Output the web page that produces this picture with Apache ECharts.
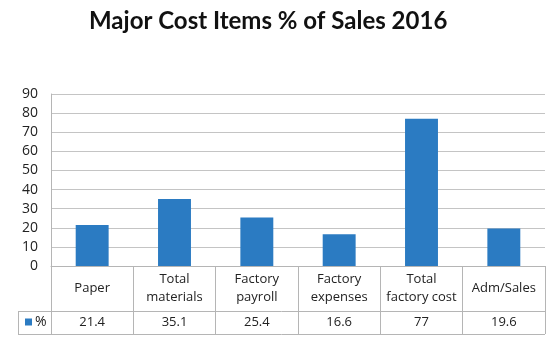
<!DOCTYPE html>
<html>
<head>
<meta charset="utf-8">
<script src="https://cdn.jsdelivr.net/npm/echarts@6/dist/echarts.min.js"></script>
<style>
  html, body { margin: 0; padding: 0; background: #fff; }
  #chart { width: 550px; height: 343px; }
</style>
</head>
<body>
<div id="chart"></div>
<script>
// Chart data
const categories = ['Paper', 'Total\nmaterials', 'Factory\npayroll', 'Factory\nexpenses', 'Total\nfactory cost', 'Adm/Sales'];
const values = [21.4, 35.1, 25.4, 16.6, 77, 19.6];
const seriesName = '%';
const yTicks = { min: 0, max: 90, interval: 10 };

// Layout of the plot area and the data table beneath it
const W = 550, H = 343;
const grid = { left: 51, right: 5, top: 94, bottom: 77 };
const rowHeaderH = 45, rowValueH = 23, tableLeft = 18;
const axisY = H - grid.bottom;
const rowLineY = axisY + rowHeaderH;
const tableBottomY = rowLineY + rowValueH;
const lineColor = '#b5b5b5';
const textColor = '#222';
const font = 'Open Sans';

const chart = echarts.init(document.getElementById('chart'), null, { renderer: 'canvas' });

chart.setOption({
  backgroundColor: '#fff',
  animation: false,
  title: {
    text: 'Major Cost Items % of Sales 2016',
    left: 84,
    top: 4,
    textStyle: { fontFamily: 'Lato', fontWeight: 'bold', fontSize: 24, color: '#111' }
  },
  legend: {
    data: [seriesName],
    left: 25,
    top: rowLineY + 4,
    padding: 0,
    itemWidth: 7,
    itemHeight: 7,
    itemGap: 2,
    icon: 'rect',
    textStyle: { fontFamily: font, fontSize: 14, color: textColor, padding: [0, 0, 0, -2] }
  },
  grid: { left: grid.left, right: grid.right, top: grid.top, bottom: grid.bottom, containLabel: false },
  xAxis: [
    {
      type: 'category',
      data: categories,
      position: 'bottom',
      axisLine: { show: true, lineStyle: { color: lineColor, width: 1 } },
      axisTick: { show: true, interval: 0, length: rowHeaderH + rowValueH, lineStyle: { color: lineColor } },
      axisLabel: {
        interval: 0,
        margin: rowHeaderH / 2,
        verticalAlign: 'middle',
        lineHeight: 18,
        fontFamily: font,
        fontSize: 13,
        color: textColor
      }
    },
    {
      type: 'category',
      data: categories,
      position: 'bottom',
      offset: rowHeaderH,
      axisLine: { show: false },
      axisTick: { show: false },
      axisLabel: {
        interval: 0,
        margin: rowValueH / 2,
        verticalAlign: 'middle',
        fontFamily: font,
        fontSize: 13,
        color: textColor,
        formatter: (v, i) => String(values[i])
      }
    }
  ],
  yAxis: {
    type: 'value',
    min: yTicks.min,
    max: yTicks.max,
    interval: yTicks.interval,
    axisLine: { show: true, lineStyle: { color: lineColor } },
    axisTick: { show: false },
    splitLine: { lineStyle: { color: '#c4c4c4', width: 1 } },
    axisLabel: { margin: 13, fontFamily: font, fontSize: 14, color: textColor }
  },
  series: [{
    name: seriesName,
    type: 'bar',
    data: values,
    barWidth: '40%',
    itemStyle: { color: '#2b7bc2' }
  }],
  graphic: [
    { type: 'line', shape: { x1: tableLeft, y1: rowLineY + 0.5, x2: W - grid.right, y2: rowLineY + 0.5 }, style: { stroke: lineColor, lineWidth: 1 } },
    { type: 'line', shape: { x1: tableLeft, y1: tableBottomY + 0.5, x2: W - grid.right, y2: tableBottomY + 0.5 }, style: { stroke: lineColor, lineWidth: 1 } },
    { type: 'line', shape: { x1: tableLeft + 0.5, y1: rowLineY, x2: tableLeft + 0.5, y2: tableBottomY }, style: { stroke: lineColor, lineWidth: 1 } }
  ]
});
</script>
</body>
</html>
